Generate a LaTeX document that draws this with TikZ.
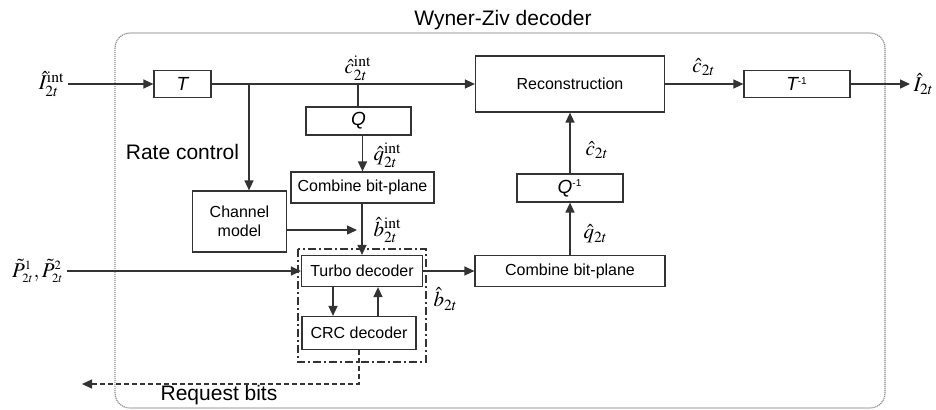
\documentclass[tikz,border=0pt]{standalone}
\usepackage{mathptmx}
\usepackage[no-math]{fontspec}
\setmainfont{Liberation Sans}
\usetikzlibrary{arrows.meta, positioning, calc}
\definecolor{cline}{HTML}{333333}
\definecolor{cframe}{HTML}{8C8C8C}
\tikzset{
  every picture/.style={line width=0.6pt},
  box/.style={draw=cline, align=center, inner sep=0pt, font=\fontsize{8}{9.6}\selectfont},
  opbox/.style={box, font=\fontsize{9.5}{11}\selectfont\itshape},
  arrow/.style={-{Triangle[length=5pt, width=4.5pt]}, draw=cline, line width=0.7pt},
  link/.style={draw=cline, line width=0.7pt},
  sig/.style={inner sep=1.5pt, font=\fontsize{10.5}{12}\selectfont},
  note/.style={inner sep=0pt, font=\fontsize{10.5}{12.6}\selectfont},
  frame/.style={draw=cframe, dash pattern=on 0.6pt off 0.4pt, rounded corners=7.5pt, line width=0.6pt},
  group/.style={draw=cline, dash pattern=on 4pt off 1.5pt on 1pt off 1.5pt, line width=0.6pt},
  request/.style={arrow, dash pattern=on 2.5pt off 1.5pt},
}

\begin{document}
\begin{tikzpicture}[x=0.5pt, y=-0.5pt]
  \useasboundingbox (0,0) rectangle (936,409);
  \draw[frame] (115,33) rectangle (885,408);
  \node[note] (title) at (503,20) {Wyner-Ziv decoder};

  \node[opbox, minimum width=28.5pt, minimum height=13.5pt] (t) at (182.5,84) {T};
  \node[opbox, minimum width=52.5pt, minimum height=14pt] (q) at (358.5,121) {Q};
  \node[box, minimum width=71.5pt, minimum height=15.5pt] (cb1) at (362.5,187.5) {Combine bit-plane};
  \node[box, minimum width=47pt, minimum height=30.5pt] (ch) at (239.5,221.5) {Channel\\model};
  \node[box, minimum width=60.5pt, minimum height=15.5pt] (turbo) at (362,271) {Turbo decoder};
  \node[box, minimum width=57pt, minimum height=16.5pt] (crc) at (359,333) {CRC decoder};
  \node[box, minimum width=95pt, minimum height=15.5pt] (cb2) at (570,271) {Combine bit-plane};
  \node[opbox, minimum width=53pt, minimum height=14pt] (qi) at (570,188) {Q\textsuperscript{\upshape\fontsize{5}{6}\selectfont -1}};
  \node[box, minimum width=94.5pt, minimum height=28pt] (rec) at (570,84) {Reconstruction};
  \node[opbox, minimum width=53pt, minimum height=13.5pt] (ti) at (797,84) {T\textsuperscript{\upshape\fontsize{5}{6}\selectfont -1}};
  \draw[group] (298,249) rectangle (426,362);

  \coordinate (in1) at (68,84);
  \coordinate (in2) at (67,271);
  \coordinate (out) at (910,84);
  \coordinate (rc) at (249,84);
  \coordinate (cq) at (358,84);
  \coordinate (req) at (82,384);

  \node[sig, anchor=east] (ilab) at (in1) {$\hat{I}^{\mathrm{int}}_{2t}$};
  \node[sig, anchor=east] (plab) at (in2) {$\tilde{P}^{\scriptscriptstyle 1}_{\scriptscriptstyle 2t},\tilde{P}^{\scriptscriptstyle 2}_{\scriptscriptstyle 2t}$};
  \node[sig, anchor=west] (olab) at (out) {$\hat{I}_{2t}$};
  \node[sig, above] (cint) at (cq) {$\hat{c}^{\mathrm{int}}_{2t}$};
  \node[sig, anchor=west] (qint) at (370,155) {$\hat{q}^{\mathrm{int}}_{2t}$};
  \node[sig, anchor=west] (bint) at (370,230) {$\hat{b}^{\mathrm{int}}_{2t}$};
  \node[sig, anchor=west] (bb) at (430,299) {$\hat{b}_{2t}$};
  \node[sig, anchor=west] (qq) at (580,234) {$\hat{q}_{2t}$};
  \node[sig, anchor=west] (cc) at (582,150) {$\hat{c}_{2t}$};
  \node[sig] (cr) at (704,67) {$\hat{c}_{2t}$};
  \node[note] (rate) at (182.5,152) {Rate control};
  \node[note] (reqlab) at (219,395) {Request bits};

  \draw[arrow] (in1) -- (t.west);
  \draw[arrow] (t.east) -- (rec.west);
  \draw[arrow] (rc) -- (rc |- ch.north);
  \draw[link] (cq) -- (cq |- q.north);
  \draw[arrow] (q.south -| cb1.north) -- (cb1.north);
  \draw[arrow] (cb1.south -| turbo.north) -- (turbo.north);
  \draw[arrow] ([yshift=-4.25pt]ch.east) -- ([yshift=-4.25pt, xshift=-2.5pt]ch.east -| turbo.north);
  \draw[arrow] (in2) -- (turbo.west);
  \draw[arrow] ([xshift=-14.5pt]turbo.south) -- ([xshift=-14.5pt]turbo.south |- crc.north);
  \draw[arrow] ([xshift=8pt]turbo.south |- crc.north) -- ([xshift=8pt]turbo.south);
  \draw[request] (crc.south) |- (req);
  \draw[arrow] (turbo.east) -- (cb2.west);
  \draw[arrow] (cb2.north) -- (qi.south);
  \draw[arrow] (qi.north) -- (rec.south);
  \draw[arrow] (rec.east) -- (ti.west);
  \draw[arrow] (ti.east) -- (out);
\end{tikzpicture}
\end{document}
